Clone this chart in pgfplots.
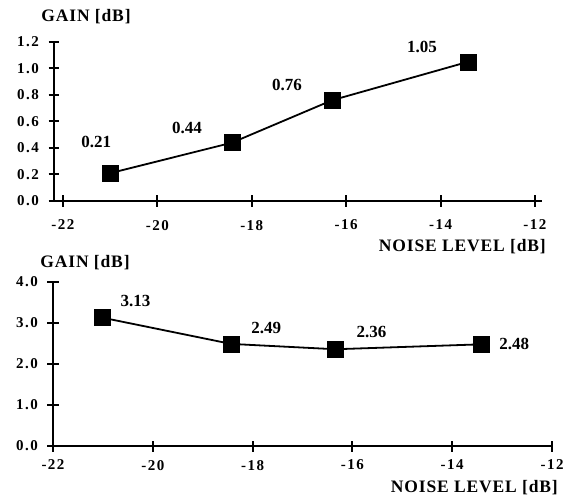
\documentclass[border=0pt]{standalone}
\usepackage{fontspec}
\setmainfont{Liberation Serif}
\newfontfamily\tickfont[LetterSpace=10]{Liberation Serif}
\newfontfamily\ttlfont[LetterSpace=5]{Liberation Serif}
\usepackage{pgfplots}
\pgfplotsset{compat=1.18}
\begin{document}
\begin{tikzpicture}[x=1pt,y=1pt]
\useasboundingbox (0,0) rectangle (569,501);
\pgfplotsset{myax/.style={
  scale only axis, axis x line=bottom, axis y line=left,
  axis line style={-, line width=2.4pt},
  major tick style={line width=2pt, black},
  tick align=center, major tick length=11pt,
  xtick={-22,-20,-18,-16,-14,-12},
  xticklabels={-22,-20,-18,-16,-14,-12},
  ticklabel style={font=\fontsize{15}{17}\selectfont\tickfont\bfseries},
  yticklabel style={xshift=-6pt},
  clip=false,
}}
\tikzset{lab/.style={font=\fontsize{17}{19}\selectfont\bfseries, inner sep=0pt},
 ttl/.style={font=\fontsize{17.5}{19}\selectfont\ttlfont\bfseries, inner sep=0pt}}
\begin{axis}[myax, at={(54pt,300pt)}, anchor=south west, width=488pt, height=159pt,
  xmin=-22.19, xmax=-11.85, ymin=0, ymax=1.2,
  xticklabel style={yshift=-10pt},
  ytick={0,0.2,0.4,0.6,0.8,1.0,1.2},
  yticklabels={0.0,0.2,0.4,0.6,0.8,1.0,1.2}]
\addplot[black, line width=1.8pt, mark=square*, mark size=8pt, mark options={line width=0.5pt}]
  coordinates {(-21.0,0.21) (-18.42,0.44) (-16.30,0.76) (-13.42,1.05)};
\node[lab, xshift=-14pt, yshift=31pt] at (axis cs:-21.0,0.21) {0.21};
\node[lab, xshift=-45pt, yshift=15pt] at (axis cs:-18.42,0.44) {0.44};
\node[lab, xshift=-45pt, yshift=15pt] at (axis cs:-16.30,0.76) {0.76};
\node[lab, xshift=-46pt, yshift=15pt] at (axis cs:-13.42,1.05) {1.05};
\end{axis}
\begin{axis}[myax, at={(53pt,55pt)}, anchor=south west, width=499pt, height=164pt,
  xmin=-22, xmax=-12, ymin=0, ymax=4,
  xticklabel style={yshift=-5pt},
  ytick={0,1,2,3,4},
  yticklabels={0.0,1.0,2.0,3.0,4.0}]
\addplot[black, line width=1.8pt, mark=square*, mark size=8pt, mark options={line width=0.5pt}]
  coordinates {(-21.01,3.13) (-18.43,2.49) (-16.34,2.36) (-13.42,2.48)};
\node[lab, xshift=33pt, yshift=17pt] at (axis cs:-21.01,3.13) {3.13};
\node[lab, xshift=35pt, yshift=16pt] at (axis cs:-18.43,2.49) {2.49};
\node[lab, xshift=36pt, yshift=17pt] at (axis cs:-16.34,2.36) {2.36};
\node[lab, xshift=33pt, yshift=0pt] at (axis cs:-13.42,2.48) {2.48};
\end{axis}
\node[ttl] at (86,484) {GAIN [dB]};
\node[ttl, anchor=east] at (546,254) {NOISE LEVEL [dB]};
\node[ttl] at (85,238) {GAIN [dB]};
\node[ttl, anchor=east] at (558,13) {NOISE LEVEL [dB]};
\end{tikzpicture}
\end{document}
